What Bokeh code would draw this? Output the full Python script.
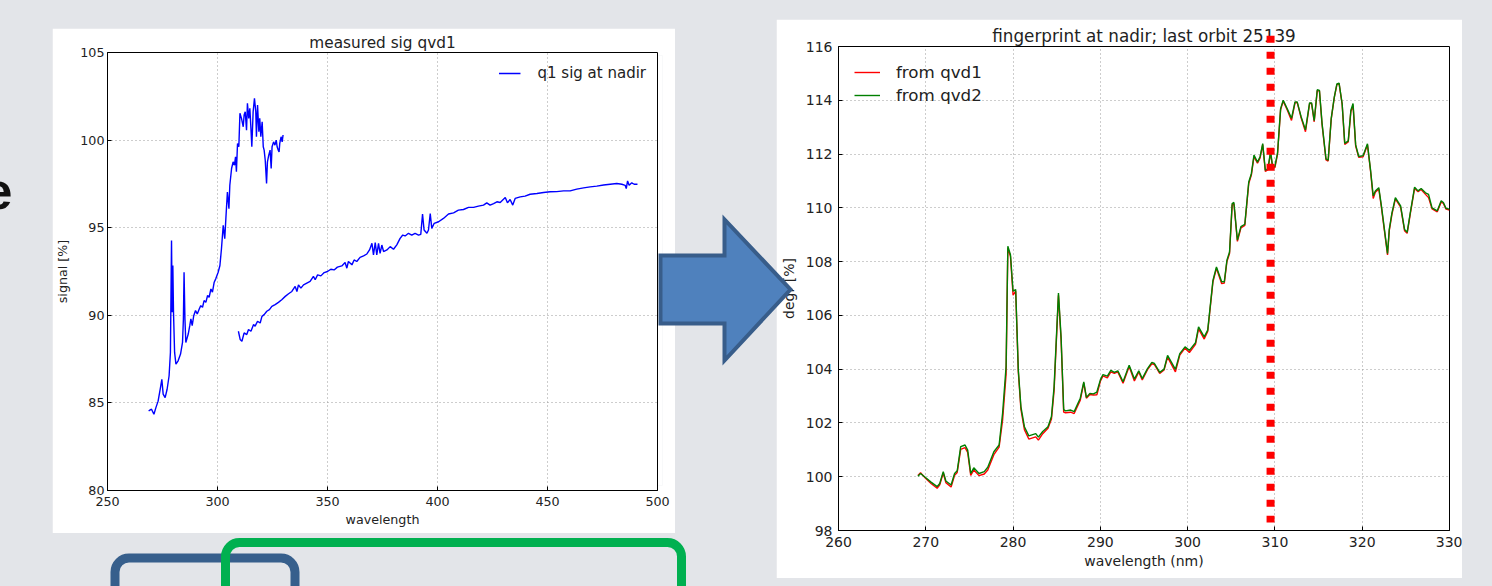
from bokeh.plotting import figure
from bokeh.models import (GridBox, Legend, LegendItem, BoxAnnotation, Range1d, Label)
from bokeh.embed import file_html
from bokeh.resources import INLINE

# ---------------- data: left chart "measured sig qvd1" ----------------
q1_wl_a = [268.7, 270.0, 271.1, 272.0, 273.0, 274.1, 274.7, 275.3, 276.2, 277.1,
           278.0, 278.6, 279.1, 279.4, 279.7, 280.0, 280.5, 281.1, 282.1, 283.2,
           284.1, 284.5, 284.8, 285.2, 285.6, 286.7, 287.4, 287.9, 288.5, 289.2,
           290.0, 290.8, 291.7, 292.4, 293.2, 293.9, 294.7, 295.5, 296.2, 297.0,
           297.7, 298.5, 299.2, 300.3, 301.1, 301.8, 302.6, 303.3, 303.8, 304.5,
           305.2, 305.6, 306.4, 307.1, 307.7, 308.2, 308.6, 309.1, 309.7, 310.2,
           310.9, 311.7, 312.1, 312.6, 313.2, 313.6, 314.2, 314.7, 315.2, 315.6,
           316.2, 316.8, 317.4, 317.7, 318.2, 318.8, 319.2, 319.7, 320.3, 320.8,
           321.2, 321.7, 322.3, 322.7, 323.3, 323.9, 324.4, 324.8, 325.5, 326.1,
           326.7, 327.1, 327.6, 328.0, 328.3, 328.9, 329.4, 329.8]
q1_sig_a = [84.54, 84.64, 84.35, 84.73, 85.10, 85.88, 86.35, 85.50, 85.30, 85.78,
            86.55, 87.88, 94.27, 90.17, 92.84, 90.17, 87.88, 87.21, 87.40, 87.79,
            88.45, 89.79, 92.46, 89.79, 88.45, 88.93, 89.41, 89.79, 89.41, 89.98,
            90.27, 90.08, 90.36, 90.55, 90.46, 90.84, 90.74, 91.13, 91.03, 91.50,
            91.32, 91.89, 92.08, 92.46, 92.84, 93.80, 95.13, 94.37, 95.52, 97.04,
            96.09, 97.42, 98.38, 98.76, 98.57, 99.05, 98.19, 99.81, 99.62, 101.53,
            101.24, 100.76, 101.43, 101.62, 100.57, 102.10, 101.24, 101.81, 100.67, 99.62,
            101.62, 102.39, 101.62, 100.19, 102.00, 100.48, 101.24, 100.19, 101.05, 99.62,
            99.43, 98.85, 97.52, 98.76, 99.14, 99.43, 98.38, 99.62, 99.90, 99.71,
            100.00, 99.62, 99.43, 99.33, 99.81, 100.19, 99.90, 100.29]

q1_wl_b = [309.5, 310.3, 311.1, 312.1, 313.3, 314.1, 315.2, 316.4, 317.1, 318.2,
           319.4, 320.2, 321.2, 322.4, 323.6, 324.7, 326.2, 327.7, 329.2, 330.8,
           332.3, 333.8, 335.3, 336.1, 336.8, 337.9, 339.1, 340.6, 342.1, 343.6,
           344.4, 345.5, 347.0, 348.5, 350.0, 351.5, 353.0, 354.5, 356.5, 358.0,
           358.8, 359.5, 361.1, 362.1, 363.3, 364.8, 366.4, 367.9, 369.1, 370.2,
           370.9, 371.7, 372.4, 373.2, 373.9, 374.7, 375.5, 377.0, 378.5, 380.0,
           381.5, 383.0, 384.2, 385.3, 386.8, 388.3, 389.8, 391.4, 392.4, 393.2,
           393.9, 395.2, 395.9, 396.7, 397.4, 398.5, 400.5, 402.7, 405.0, 407.3,
           409.5, 411.8, 414.1, 416.4, 418.6, 420.9, 422.4, 423.9, 425.5, 427.0,
           428.5, 430.8, 431.8, 433.0, 434.2, 435.3, 437.6, 439.8, 442.1, 445.2,
           448.2, 451.2, 454.2, 457.3, 460.3, 463.3, 466.4, 469.4, 472.4, 475.5,
           478.5, 481.5, 483.8, 485.3, 485.8, 486.4, 487.1, 488.3, 489.4, 490.9]
q1_sig_b = [89.09, 88.62, 88.52, 89.00, 88.90, 89.19, 89.09, 89.47, 89.38, 89.66,
            89.56, 89.94, 90.04, 90.23, 90.32, 90.51, 90.61, 90.74, 90.89, 91.08,
            91.23, 91.36, 91.65, 91.36, 91.74, 91.55, 91.74, 91.84, 91.93, 92.22,
            92.03, 92.31, 92.25, 92.44, 92.50, 92.63, 92.59, 92.75, 92.82, 93.01,
            92.69, 93.07, 92.88, 93.16, 93.07, 93.31, 93.39, 93.50, 93.73, 94.11,
            93.45, 94.15, 93.45, 94.11, 93.54, 94.01, 93.64, 93.73, 93.92, 93.77,
            94.02, 94.39, 94.58, 94.53, 94.68, 94.58, 94.68, 94.58, 94.62, 95.78,
            94.87, 94.68, 94.87, 95.81, 94.96, 95.25, 95.34, 95.53, 95.78, 95.85,
            96.00, 96.04, 96.16, 96.16, 96.23, 96.29, 96.42, 96.29, 96.38, 96.48,
            96.44, 96.72, 96.42, 96.61, 96.29, 96.67, 96.76, 96.80, 96.91, 96.95,
            97.01, 97.05, 97.06, 97.10, 97.10, 97.20, 97.27, 97.33, 97.37, 97.44,
            97.48, 97.52, 97.48, 97.42, 97.23, 97.67, 97.42, 97.56, 97.48, 97.48]

left_xticks = [250, 300, 350, 400, 450, 500]
left_yticks = [80, 85, 90, 95, 100, 105]

# ---------------- data: right chart "fingerprint at nadir" ----------------
fp_wl = [269.1, 269.4, 270.0, 270.6, 271.3, 271.6, 272.0, 272.3, 272.9, 273.3,
         273.6, 274.0, 274.5, 274.8, 275.15, 275.5, 276.1, 276.7, 277.1, 277.8,
         278.4, 278.8, 279.2, 279.4, 279.7, 280.0, 280.3, 280.6, 280.9, 281.3,
         281.8, 282.6, 282.9, 283.4, 284.0, 284.4, 284.7, 285.2, 285.5, 285.8,
         286.0, 286.6, 287.0, 287.7, 288.1, 288.4, 288.8, 289.2, 289.6, 290.0,
         290.3, 290.8, 291.2, 291.6, 292.0, 292.6, 293.3, 293.9, 294.4, 294.8,
         295.4, 295.9, 296.2, 296.8, 297.3, 297.7, 298.6, 299.1, 299.7, 300.2,
         300.9, 301.25, 301.9, 302.3, 302.9, 303.3, 303.9, 304.2, 304.5, 304.8,
         305.1, 305.3, 305.7, 306.1, 306.55, 307.0, 307.3, 307.6, 308.0, 308.3,
         308.6, 308.9, 309.2, 309.5, 309.75, 310.0, 310.3, 310.65, 310.95, 311.4,
         311.9, 312.3, 312.55, 313.0, 313.5, 313.97, 314.2, 314.5, 314.85, 315.1,
         315.4, 315.85, 316.1, 316.45, 316.8, 317.1, 317.35, 317.7, 318.0, 318.4,
         318.7, 318.95, 319.25, 319.6, 320.1, 320.6, 320.95, 321.26, 321.5, 321.9,
         322.2, 322.9, 323.1, 323.4, 323.8, 324.4, 324.85, 325.15, 325.5, 326.0,
         326.4, 326.75, 327.25, 327.6, 328.0, 328.6, 329.05, 329.3, 329.6, 330.0]
fp_qvd2 = [100.02, 100.12, 99.96, 99.80, 99.63, 99.75, 100.19, 99.84, 99.69, 100.12,
           100.22, 101.12, 101.18, 100.99, 100.12, 100.33, 100.12, 100.19, 100.35, 100.93,
           101.18, 102.36, 104.10, 108.57, 108.26, 106.90, 106.96, 103.98, 102.60, 101.86,
           101.52, 101.60, 101.47, 101.68, 101.86, 102.24, 103.35, 106.83, 105.20, 102.50,
           102.45, 102.48, 102.42, 102.92, 103.53, 102.95, 103.10, 103.08, 103.15, 103.60,
           103.80, 103.74, 103.96, 103.88, 103.94, 103.53, 104.15, 103.63, 103.94, 103.65,
           104.02, 104.25, 104.21, 103.88, 104.00, 104.51, 103.99, 104.58, 104.83, 104.70,
           104.98, 105.57, 105.20, 105.45, 107.30, 107.80, 107.25, 107.25, 108.05, 108.36,
           110.16, 110.20, 108.80, 109.30, 109.39, 110.96, 111.27, 111.96, 111.70, 111.90,
           112.39, 111.40, 111.45, 112.10, 111.50, 111.55, 112.04, 113.69, 114.00, 113.69,
           113.33, 113.94, 113.94, 113.39, 112.90, 113.90, 113.90, 113.24, 114.39, 114.37,
           113.14, 111.82, 111.77, 113.33, 114.12, 114.61, 114.64, 113.88, 112.40, 112.49,
           113.63, 113.88, 112.34, 111.91, 111.94, 112.38, 111.42, 110.44, 110.63, 110.75,
           110.07, 108.30, 109.20, 109.80, 110.38, 110.07, 109.20, 109.09, 109.80, 110.77,
           110.63, 110.72, 110.56, 110.50, 110.00, 109.89, 110.26, 110.20, 109.98, 109.95]
fp_qvd1 = [100.05, 100.15, 99.93, 99.75, 99.57, 99.70, 100.14, 99.78, 99.62, 100.05,
           100.16, 101.02, 101.08, 100.90, 100.05, 100.25, 100.04, 100.10, 100.25, 100.82,
           101.10, 102.10, 103.80, 108.50, 108.20, 106.75, 106.90, 103.90, 102.50, 101.75,
           101.40, 101.48, 101.36, 101.60, 101.80, 102.15, 103.20, 106.75, 105.10, 102.40,
           102.38, 102.40, 102.35, 102.85, 103.48, 102.92, 103.06, 103.04, 103.05, 103.55,
           103.75, 103.68, 103.90, 103.84, 103.90, 103.48, 104.10, 103.56, 103.90, 103.60,
           103.98, 104.20, 104.17, 103.84, 103.97, 104.45, 103.90, 104.52, 104.78, 104.62,
           104.92, 105.50, 105.12, 105.40, 107.25, 107.75, 107.18, 107.20, 108.00, 108.30,
           110.10, 110.15, 108.75, 109.25, 109.35, 110.90, 111.22, 111.90, 111.66, 111.86,
           112.35, 111.35, 111.42, 112.05, 111.45, 111.50, 112.00, 113.65, 113.97, 113.65,
           113.25, 113.90, 113.92, 113.35, 112.83, 113.88, 113.88, 113.20, 114.36, 114.34,
           113.10, 111.78, 111.74, 113.30, 114.10, 114.58, 114.62, 113.85, 112.36, 112.45,
           113.58, 113.80, 112.30, 111.88, 111.90, 112.34, 111.38, 110.35, 110.58, 110.70,
           110.02, 108.25, 109.15, 109.75, 110.33, 110.03, 109.15, 109.05, 109.76, 110.72,
           110.60, 110.68, 110.50, 110.38, 109.96, 109.85, 110.22, 110.16, 109.95, 109.92]
last_orbit_wl = 309.5
last_orbit_span = [98.3, 116.4]

right_xticks = [260, 270, 280, 290, 300, 310, 320, 330]
right_yticks = [98, 100, 102, 104, 106, 108, 110, 112, 114, 116]

# ---------------- layout geometry (page pixels) ----------------
PAGE_W, PAGE_H = 1492, 586
BL, BR, BT, BB = 62, 13, 27, 48           # common borders of every figure
LEFT_FRAME = (107, 657, 52, 490)          # x0, x1, y0, y1
RIGHT_FRAME = (838, 1449, 46, 530)
OVERLAY_TOP = 20                          # dotted marker may rise above the frame
LEFT_PANEL = (52, 675, 28, 533)
DECO_FRAME = (-30, 700, 150, 600)
ARROW_FRAME = (640, 800, 205, 375)
arrow_xs = [660, 724, 724, 790, 724, 724, 660]
arrow_ys = [255, 255, 219, 289, 360, 323, 323]

FONT = "DejaVu Sans"
TXT = "#222222"
SLIDE_BG = "#e3e5e9"


def framed(x0, x1, y0, y1, **kw):
    """Figure whose frame lands exactly on the given page rectangle."""
    return figure(width=BL + (x1 - x0) + BR, height=BT + (y1 - y0) + BB,
                  margin=(y0 - BT, 0, 0, x0 - BL), min_border_left=BL,
                  min_border_right=BR, min_border_top=BT, min_border_bottom=BB,
                  output_backend="svg", toolbar_location=None, **kw)


def blank(p, fill=None):
    p.grid.visible = False
    p.outline_line_color = None
    p.background_fill_color = fill
    p.border_fill_color = fill


def style_chart(p, tick_px, title_px, y_lab_stand, y_tick_stand, x_tick_stand, x_lab_stand):
    p.title.text_font = FONT
    p.title.text_font_size = title_px
    p.title.text_font_style = "normal"
    p.title.text_color = TXT
    p.title.align = "center"
    p.title.standoff = 1
    for ax in p.axis:
        ax.major_label_text_font = FONT
        ax.major_label_text_font_size = tick_px
        ax.major_label_text_color = TXT
        ax.axis_label_text_font = FONT
        ax.axis_label_text_font_size = tick_px
        ax.axis_label_text_font_style = "normal"
        ax.axis_label_text_color = TXT
        ax.major_tick_in = 4
        ax.major_tick_out = 0
        ax.minor_tick_line_color = None
        ax.major_tick_line_color = "black"
        ax.axis_line_color = "black"
    p.yaxis.axis_label_standoff = y_lab_stand
    p.yaxis.major_label_standoff = y_tick_stand
    p.xaxis.major_label_standoff = x_tick_stand
    p.xaxis.axis_label_standoff = x_lab_stand
    for g in p.grid:
        g.grid_line_color = "#9a9a9a"
        g.grid_line_dash = "1 3"
        g.grid_line_width = 1
    p.outline_line_color = "black"
    p.outline_line_width = 1
    p.background_fill_color = "white"


# ---------------- slide background: plain gray canvas, exactly page size ----------------
bg = figure(width=PAGE_W, height=PAGE_H, margin=(0, 0, 0, 0), x_axis_type=None,
            y_axis_type=None, output_backend="svg", toolbar_location=None,
            min_border_left=BL, min_border_right=BR, min_border_top=BT, min_border_bottom=BB)
blank(bg, SLIDE_BG)

# ---------------- white panel behind the left chart ----------------
panel = figure(width=LEFT_PANEL[1] - LEFT_PANEL[0], height=LEFT_PANEL[3] - LEFT_PANEL[2],
               margin=(LEFT_PANEL[2], 0, 0, LEFT_PANEL[0]), x_axis_type=None,
               y_axis_type=None, output_backend="svg", toolbar_location=None,
               min_border_left=BL, min_border_right=BR, min_border_top=BT,
               min_border_bottom=BB)
blank(panel, "white")

# ---------------- decorations: rounded boxes and the cut-off "e" ----------------
deco = framed(*DECO_FRAME, x_range=Range1d(DECO_FRAME[0], DECO_FRAME[1]),
              y_range=Range1d(DECO_FRAME[3], DECO_FRAME[2]),
              x_axis_type=None, y_axis_type=None)
blank(deco)


def add_box(fig, l, r, t, color):
    kw = dict(left=l, right=r, top=t, bottom=PAGE_H + 40, fill_alpha=0, line_alpha=1,
              line_color=color, line_width=9)
    try:
        box = BoxAnnotation(border_radius=14, **kw)
    except Exception:
        box = BoxAnnotation(**kw)
    fig.add_layout(box)


add_box(deco, 114.5, 294.5, 557.5, "#375f8c")
add_box(deco, 225, 681, 542, "#00b050")
deco.add_layout(Label(x=-17, y=208, text="e", text_font="Liberation Sans",
                      text_font_size="52px", text_font_style="bold", text_color="#111111"))

# ---------------- left chart ----------------
left = framed(*LEFT_FRAME, x_range=Range1d(250, 500), y_range=Range1d(80, 105),
              title="measured sig qvd1")
left.border_fill_color = None
left.xaxis.axis_label = "wavelength"
left.yaxis.axis_label = "signal [%]"
left.xaxis.ticker = left_xticks
left.yaxis.ticker = left_yticks
style_chart(left, "12.7px", "15.3px", 7, 3, 6, 3)
ra = left.line(q1_wl_a, q1_sig_a, line_color="#0000ff", line_width=1.4)
rb = left.line(q1_wl_b, q1_sig_b, line_color="#0000ff", line_width=1.4)
left.add_layout(Legend(items=[LegendItem(label="q1 sig at nadir", renderers=[ra])],
                       location="top_right", margin=0, padding=11, border_line_alpha=0,
                       background_fill_alpha=0, glyph_width=22, label_standoff=17,
                       label_text_font=FONT, label_text_font_size="15px",
                       label_text_color=TXT))

# ---------------- right chart ----------------
right = framed(*RIGHT_FRAME, x_range=Range1d(260, 330), y_range=Range1d(98, 116),
               title="fingerprint at nadir; last orbit 25139")
right.border_fill_color = "white"
right.xaxis.axis_label = "wavelength (nm)"
right.yaxis.axis_label = "degr [%]"
right.xaxis.ticker = right_xticks
right.yaxis.ticker = right_yticks
style_chart(right, "14px", "16.8px", 6, 6, 6, 3)
r1 = right.line(fp_wl, fp_qvd1, line_color="#ff0000", line_width=1.4)
r2 = right.line(fp_wl, fp_qvd2, line_color="#008000", line_width=1.4)
right.add_layout(Legend(items=[LegendItem(label="from qvd1", renderers=[r1]),
                               LegendItem(label="from qvd2", renderers=[r2])],
                        location="top_left", margin=0, padding=16, spacing=3,
                        border_line_alpha=0, background_fill_alpha=0, glyph_width=26,
                        glyph_height=18, label_height=18, label_standoff=16,
                        label_text_font=FONT, label_text_font_size="16.7px",
                        label_text_color=TXT))

# ---- overlay with the same scales as the right chart but a taller frame, so the
# ---- "last orbit" marker can rise over the title as in the original
px_per_unit = (RIGHT_FRAME[3] - RIGHT_FRAME[2]) / (116 - 98)
ov_top = 116 + (RIGHT_FRAME[2] - OVERLAY_TOP) / px_per_unit
ov = framed(RIGHT_FRAME[0], RIGHT_FRAME[1], OVERLAY_TOP, RIGHT_FRAME[3],
            x_range=Range1d(260, 330), y_range=Range1d(98, ov_top),
            x_axis_type=None, y_axis_type=None)
blank(ov)
ov.segment(x0=[last_orbit_wl], y0=[last_orbit_span[1]], x1=[last_orbit_wl],
           y1=[last_orbit_span[0]], line_color="#ff0000", line_width=8,
           line_dash="7 9", line_cap="butt")

# ---------------- block arrow overlay ----------------
arr = framed(*ARROW_FRAME, x_range=Range1d(ARROW_FRAME[0], ARROW_FRAME[1]),
             y_range=Range1d(ARROW_FRAME[3], ARROW_FRAME[2]),
             x_axis_type=None, y_axis_type=None)
blank(arr)
arr.patch(arrow_xs, arrow_ys, fill_color="#4f81bd", line_color="#385d8a",
          line_width=4, line_join="miter")

root = GridBox(children=[(bg, 0, 0), (panel, 0, 0), (deco, 0, 0), (left, 0, 0),
                         (right, 0, 0), (ov, 0, 0), (arr, 0, 0)],
               width=PAGE_W, height=PAGE_H,
               styles={"overflow": "hidden", "background-color": SLIDE_BG})

open("out.html", "w").write(file_html(root, INLINE))
